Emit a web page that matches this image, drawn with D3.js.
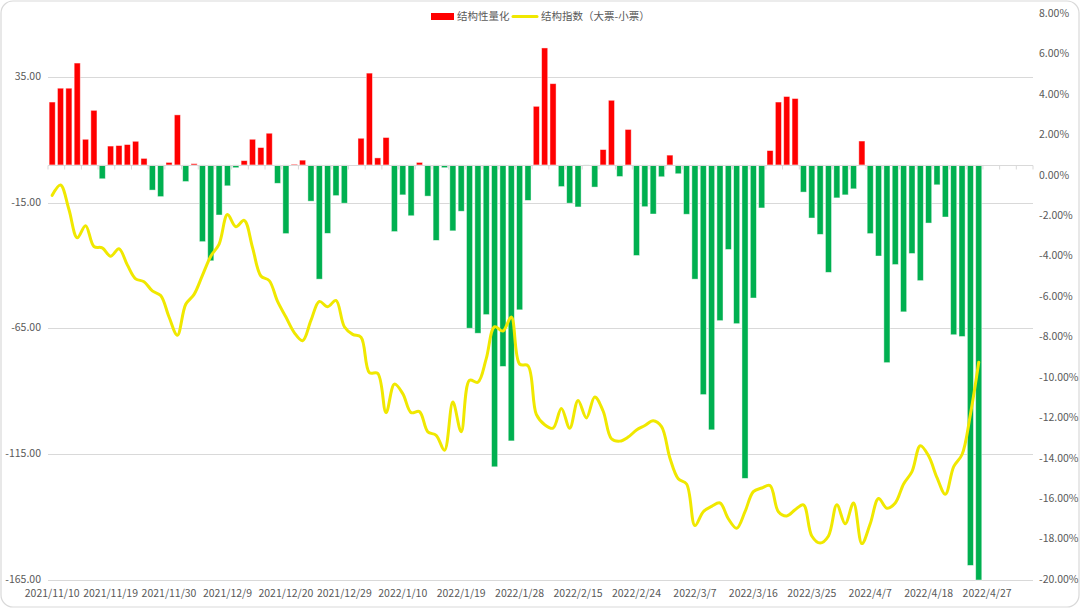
<!DOCTYPE html>
<html>
<head>
<meta charset="utf-8">
<script src="https://cdn.jsdelivr.net/npm/d3@7/dist/d3.min.js"></script>
<style>
  html, body { margin: 0; padding: 0; background: #fff; }
  svg { display: block; }
</style>
</head>
<body>
<svg id="chart" width="1080" height="609"></svg>
<script>
// trading days shown on the category axis
const dates = [
  "2021/11/10","2021/11/11","2021/11/12","2021/11/15","2021/11/16","2021/11/17","2021/11/18","2021/11/19",
  "2021/11/22","2021/11/23","2021/11/24","2021/11/25","2021/11/26","2021/11/29","2021/11/30",
  "2021/12/1","2021/12/2","2021/12/3","2021/12/6","2021/12/7","2021/12/8","2021/12/9","2021/12/10",
  "2021/12/13","2021/12/14","2021/12/15","2021/12/16","2021/12/17","2021/12/20","2021/12/21","2021/12/22",
  "2021/12/23","2021/12/24","2021/12/27","2021/12/28","2021/12/29","2021/12/30","2021/12/31",
  "2022/1/4","2022/1/5","2022/1/6","2022/1/7","2022/1/10","2022/1/11","2022/1/12","2022/1/13","2022/1/14",
  "2022/1/17","2022/1/18","2022/1/19","2022/1/20","2022/1/21","2022/1/24","2022/1/25","2022/1/26","2022/1/27","2022/1/28",
  "2022/2/7","2022/2/8","2022/2/9","2022/2/10","2022/2/11","2022/2/14","2022/2/15","2022/2/16","2022/2/17","2022/2/18",
  "2022/2/21","2022/2/22","2022/2/23","2022/2/24","2022/2/25","2022/2/28",
  "2022/3/1","2022/3/2","2022/3/3","2022/3/4","2022/3/7","2022/3/8","2022/3/9","2022/3/10","2022/3/11",
  "2022/3/14","2022/3/15","2022/3/16","2022/3/17","2022/3/18","2022/3/21","2022/3/22","2022/3/23","2022/3/24","2022/3/25",
  "2022/3/28","2022/3/29","2022/3/30","2022/3/31",
  "2022/4/1","2022/4/6","2022/4/7","2022/4/8","2022/4/11","2022/4/12","2022/4/13","2022/4/14","2022/4/15",
  "2022/4/18","2022/4/19","2022/4/20","2022/4/21","2022/4/22","2022/4/25","2022/4/26","2022/4/27","2022/4/28","2022/4/29",
  "2022/5/5","2022/5/6","2022/5/9"
];

// 结构性量化 (left axis)
const quantValues = [
  25.0, 30.5, 30.5, 40.5, 10.2, 21.7, -5.5, 7.5, 7.7, 8.1,
  9.4, 2.6, -10.0, -12.6, 1.0, 19.9, -6.6, 0.5, -30.5, -38.1,
  -19.9, -8.3, -1.1, 1.7, 10.2, 6.9, 12.6, -7.3, -27.3, 0.3,
  1.9, -14.4, -45.4, -27.2, -12.2, -15.2, 0, 10.6, 36.5, 2.8,
  10.9, -26.5, -11.9, -20.2, 1.0, -12.4, -30.0, -1.1, -26.2, -18.4,
  -64.9, -66.9, -59.5, -120.0, -80.1, -109.7, -57.6, -14.1, 23.3, 46.5,
  32.3, -8.6, -15.2, -16.7, -0.3, -8.8, 6.1, 25.7, -4.6, 14.1,
  -36.0, -16.6, -19.5, -4.7, 3.9, -3.5, -19.6, -45.4, -91.3, -105.3,
  -61.9, -33.6, -63.1, -124.6, -52.9, -17.1, 5.7, 25.0, 27.2, 26.4,
  -10.8, -21.1, -27.6, -42.7, -13.1, -11.9, -9.5, 9.5, -27.3, -36.2,
  -78.6, -39.6, -58.4, -35.2, -46.0, -23.1, -7.9, -20.7, -67.5, -68.2,
  -159.2, -165.0
];

// 结构指数（大票-小票）, percent (right axis)
const indexValues = [
  -0.97, -0.46, -1.66, -3.07, -2.47, -3.50, -3.57, -3.98, -3.61, -4.41,
  -5.10, -5.24, -5.70, -5.93, -6.99, -7.89, -6.36, -5.87, -4.93, -3.98,
  -3.38, -1.92, -2.52, -2.21, -3.55, -4.96, -5.19, -6.22, -6.99, -7.76,
  -8.16, -7.16, -6.22, -6.48, -6.17, -7.47, -7.85, -7.99, -9.74, -9.78,
  -11.72, -10.31, -10.78, -11.72, -11.67, -12.67, -12.84, -13.58, -11.20, -12.67,
  -10.12, -10.22, -9.05, -7.47, -7.68, -6.99, -9.32, -9.40, -11.81, -12.32,
  -12.49, -11.51, -12.49, -11.12, -11.98, -10.95, -11.64, -13.01, -13.13, -12.93,
  -12.58, -12.36, -12.12, -12.41, -13.96, -14.99, -15.25, -17.31, -16.62, -16.36,
  -16.19, -16.97, -17.44, -16.62, -15.63, -15.45, -15.33, -16.62, -16.83, -16.53,
  -16.28, -17.82, -18.17, -17.82, -16.28, -17.22, -16.19, -18.20, -17.22, -15.97,
  -16.45, -16.19, -15.25, -14.64, -13.36, -13.87, -14.94, -15.76, -14.39, -13.79,
  -11.81, -9.23
];

const leftTicks = [-165, -115, -65, -15, 35];
const rightTicks = [-20, -18, -16, -14, -12, -10, -8, -6, -4, -2, 0, 2, 4, 6, 8];
const labelEvery = 7;

const W = 1080, H = 609;
const plot = { left: 48, right: 1033, top: 14, bottom: 580 };
const font = '"Microsoft YaHei", "Noto Sans CJK SC", "Liberation Sans", sans-serif';
const textColor = '#595959';
const gridColor = '#d9d9d9';

const svg = d3.select('#chart');

// card frame
svg.append('rect')
  .attr('x', 1).attr('y', 1).attr('width', W - 2).attr('height', H - 3)
  .attr('rx', 12).attr('ry', 12)
  .attr('fill', '#fff').attr('stroke', '#d9d9d9').attr('stroke-width', 1.2);

const x = d3.scaleBand().domain(dates).range([plot.left, plot.right]);
const yL = d3.scaleLinear().domain([-165, 60]).range([plot.bottom, plot.top]);
const yR = d3.scaleLinear().domain([-20, 8]).range([plot.bottom, plot.top]);

// gridlines on the left axis ticks
svg.append('g').selectAll('line')
  .data(leftTicks).join('line')
  .attr('x1', plot.left).attr('x2', plot.right)
  .attr('y1', d => Math.round(yL(d)) + 0.5).attr('y2', d => Math.round(yL(d)) + 0.5)
  .attr('stroke', gridColor).attr('stroke-width', 1);

// left axis labels
svg.append('g').selectAll('text')
  .data(leftTicks).join('text')
  .attr('x', 41).attr('y', d => yL(d))
  .attr('text-anchor', 'end').attr('dominant-baseline', 'middle')
  .attr('font-family', font).attr('font-size', 10.5).attr('fill', textColor)
  .text(d => d.toFixed(2));

// right axis labels
svg.append('g').selectAll('text')
  .data(rightTicks).join('text')
  .attr('x', 1039).attr('y', d => yR(d))
  .attr('text-anchor', 'start').attr('dominant-baseline', 'middle')
  .attr('font-family', font).attr('font-size', 10.5).attr('fill', textColor)
  .text(d => d.toFixed(2) + '%');

// bars
const barW = x.bandwidth() * 0.73;
svg.append('g').selectAll('rect')
  .data(quantValues).join('rect')
  .attr('x', (d, i) => x(dates[i]) + (x.bandwidth() - barW) / 2)
  .attr('width', barW)
  .attr('y', d => yL(Math.max(0, d)))
  .attr('height', d => Math.abs(yL(d) - yL(0)))
  .attr('fill', d => d >= 0 ? '#ff0000' : '#00b050')
  .attr('stroke', '#ffffff').attr('stroke-opacity', 0.55).attr('stroke-width', 0.8);

// category axis at zero
const zeroY = Math.round(yL(0)) + 0.5;
svg.append('line')
  .attr('x1', plot.left).attr('x2', plot.right)
  .attr('y1', zeroY).attr('y2', zeroY)
  .attr('stroke', gridColor).attr('stroke-width', 1);

const tickIdx = d3.range(0, dates.length + 1, 2);
svg.append('g').selectAll('line')
  .data(tickIdx).join('line')
  .attr('x1', i => (i < dates.length ? x(dates[i]) : plot.right))
  .attr('x2', i => (i < dates.length ? x(dates[i]) : plot.right))
  .attr('y1', zeroY).attr('y2', zeroY + 4)
  .attr('stroke', gridColor).attr('stroke-width', 1);

// category labels along the bottom
svg.append('g').selectAll('text')
  .data(dates.filter((d, i) => i % labelEvery === 0)).join('text')
  .attr('x', d => x(d) + x.bandwidth() / 2)
  .attr('y', 594)
  .attr('text-anchor', 'middle').attr('dominant-baseline', 'middle')
  .attr('font-family', font).attr('font-size', 10.5).attr('fill', textColor)
  .text(d => d);

// index line
const line = d3.line()
  .x((d, i) => x(dates[i]) + x.bandwidth() / 2)
  .y(d => yR(d))
  .curve(d3.curveCatmullRom.alpha(0.5));

svg.append('path')
  .datum(indexValues)
  .attr('d', line)
  .attr('fill', 'none')
  .attr('stroke', '#f0e800')
  .attr('stroke-width', 3)
  .attr('stroke-linejoin', 'round')
  .attr('stroke-linecap', 'round');

// legend
const legend = svg.append('g').attr('font-family', font).attr('font-size', 10.5).attr('fill', textColor);
legend.append('rect').attr('x', 431).attr('y', 13).attr('width', 23).attr('height', 7).attr('fill', '#ff0000');
legend.append('text').attr('x', 457).attr('y', 17).attr('dominant-baseline', 'middle').text('结构性量化');
legend.append('line').attr('x1', 513).attr('x2', 537).attr('y1', 16.5).attr('y2', 16.5)
  .attr('stroke', '#f0e800').attr('stroke-width', 3).attr('stroke-linecap', 'round');
legend.append('text').attr('x', 541).attr('y', 17).attr('dominant-baseline', 'middle').text('结构指数（大票-小票）');
</script>
</body>
</html>
